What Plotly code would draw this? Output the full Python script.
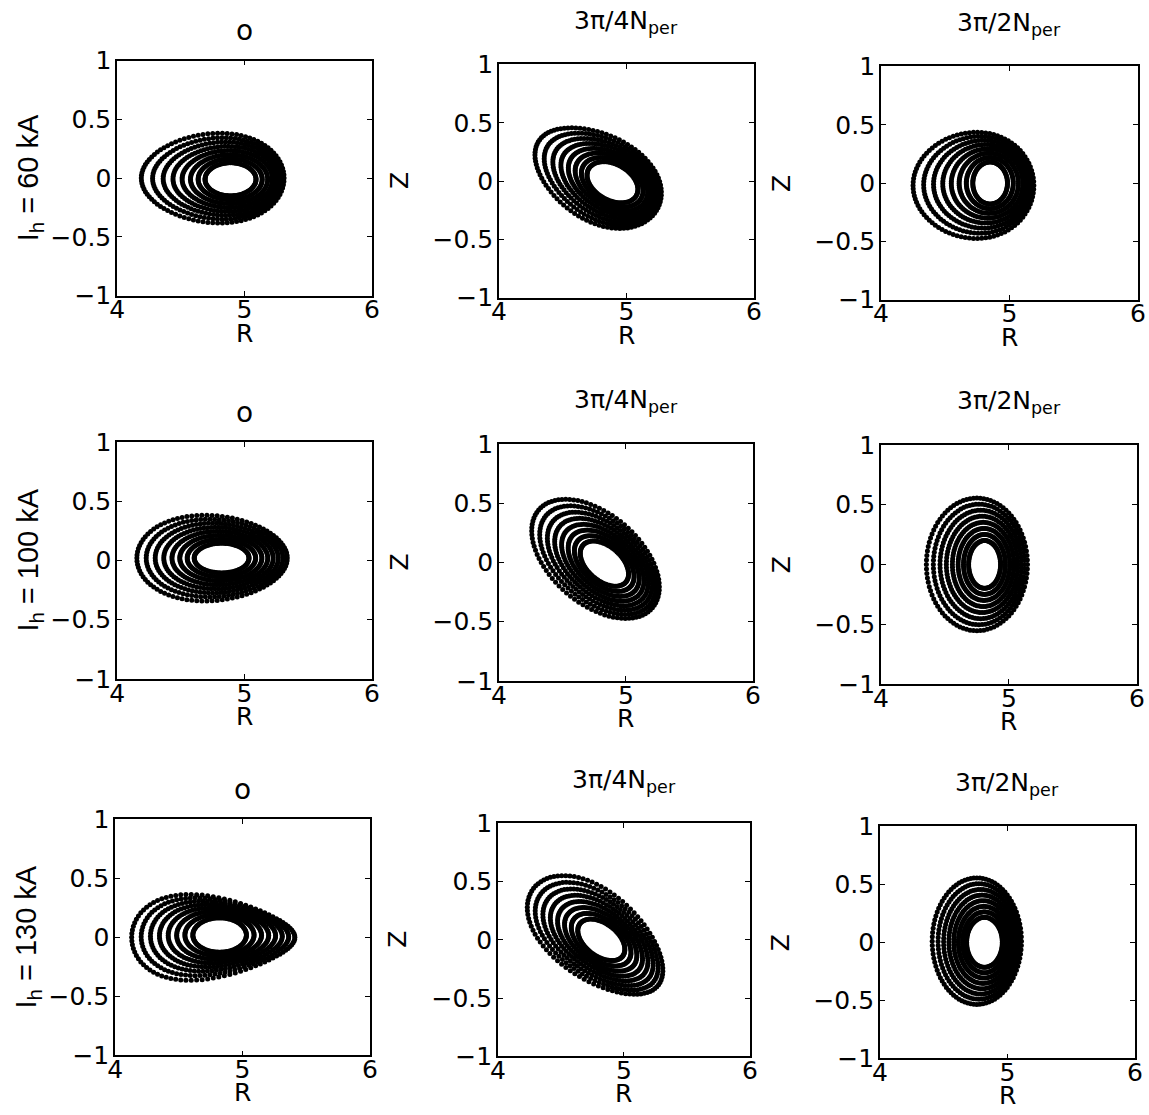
import numpy as np
import plotly.graph_objects as go

W, H = 1149, 1115
# The page is photographed with an 8 px body margin and scaled to the window,
# so reference pixel positions are mapped back through that transform.
PAD = 8
SX = W / (W + 2 * PAD)
SY = H / (H + 2 * PAD)

# ---------------- text ----------------
row_labels = ["I<sub>h</sub> = 60 kA", "I<sub>h</sub> = 100 kA", "I<sub>h</sub> = 130 kA"]
col_titles = ["o", "3π/4N<sub>per</sub>", "3π/2N<sub>per</sub>"]
x_title = "R"
y_title = "Z"
x_ticks = [4, 5, 6]
x_ticktext = ["4", "5", "6"]
y_ticks = [-1, -0.5, 0, 0.5, 1]
y_ticktext = ["\u22121", "\u22120.5", "0", "0.5", "1"]

# ---------------- data, row-major panels ----------------
n_surfaces = 8          # nested flux surfaces per panel
n_points = 92           # Poincare points per surface
# innermost surface
inner_R = [4.89, 4.89, 4.85, 4.82, 4.83, 4.81, 4.82, 4.82, 4.82]
inner_Z = [-0.01, -0.01, 0.0, 0.02, -0.01, 0.0, 0.02, 0.0, 0.0]
inner_a = [0.20, 0.22, 0.135, 0.215, 0.23, 0.125, 0.21, 0.22, 0.14]
inner_b = [0.14, 0.15, 0.18, 0.125, 0.14, 0.20, 0.145, 0.135, 0.215]
# outermost surface
outer_R = [4.75, 4.77, 4.72, 4.745, 4.76, 4.75, 4.77, 4.78, 4.76]
outer_Z = [0.0, 0.04, -0.02, 0.02, 0.03, 0.0, 0.0, 0.03, 0.01]
outer_a = [0.56, 0.55, 0.47, 0.59, 0.61, 0.395, 0.64, 0.647, 0.35]
outer_b = [0.38, 0.36, 0.455, 0.36, 0.365, 0.555, 0.345, 0.36, 0.545]
tilt_deg = [0, -35, 0, 0, -45, 0, 0, -42, 0]
egg = [0.1, 0.1, 0.05, -0.1, 0.0, 0.0, -0.35, -0.1, 0.0]

# ---------------- layout boxes (reference pixels: left, right, top, bottom) ----------------
boxes = [
    (117, 372, 55, 293), (499, 754, 59, 295), (881, 1138, 61, 297),
    (117, 372, 441, 681), (499, 753, 443, 683), (881, 1137, 444, 686),
    (115, 370, 823, 1062), (498, 750, 827, 1063), (880, 1135, 830, 1065),
]

FONT = "DejaVu Sans, Verdana, sans-serif"
LABEL_FONT = "Liberation Sans, Arial, Helvetica, sans-serif"


def px(X):
    return (X / SX - PAD) / W


def py(Y):
    return 1 - (Y / SY - PAD) / H


fig = go.Figure()
theta = np.linspace(0, 2 * np.pi, n_points, endpoint=False)

for i in range(9):
    Rs, Zs = [], []
    al = np.deg2rad(tilt_deg[i])
    for k in range(n_surfaces):
        t = k / (n_surfaces - 1)
        Rc = inner_R[i] + (outer_R[i] - inner_R[i]) * t ** 2
        Zc = inner_Z[i] + (outer_Z[i] - inner_Z[i]) * t ** 2
        a = inner_a[i] + (outer_a[i] - inner_a[i]) * t
        b = inner_b[i] + (outer_b[i] - inner_b[i]) * t
        e = egg[i] * t
        u = a * np.cos(theta)
        v = b * np.sin(theta) * (1 + e * np.cos(theta))
        Rs.append(Rc + u * np.cos(al) - v * np.sin(al))
        Zs.append(Zc + u * np.sin(al) + v * np.cos(al))
    sfx = "" if i == 0 else str(i + 1)
    fig.add_trace(go.Scatter(
        x=np.concatenate(Rs), y=np.concatenate(Zs), mode="markers",
        marker=dict(color="black", size=5.0, line=dict(width=0)),
        xaxis="x" + sfx, yaxis="y" + sfx, showlegend=False, hoverinfo="skip"))

layout = dict(width=W, height=H, margin=dict(l=0, r=0, t=0, b=0),
              paper_bgcolor="white", plot_bgcolor="white", showlegend=False,
              font=dict(family=FONT, size=25, color="black"))
annotations = []
for i in range(9):
    r, c = divmod(i, 3)
    x0, x1, y0, y1 = boxes[i]
    sfx = "" if i == 0 else str(i + 1)
    common = dict(ticks="inside", ticklen=5, tickwidth=1, tickcolor="black",
                  mirror="allticks", showline=True, linecolor="black", linewidth=1.6,
                  showgrid=False, zeroline=False, fixedrange=True,
                  tickfont=dict(family=FONT, size=25, color="black"))
    layout["xaxis" + sfx] = dict(
        domain=[px(x0), px(x1)], range=[4, 6], tickvals=x_ticks, ticktext=x_ticktext,
        anchor="y" + sfx, ticklabelstandoff=-9, **common)
    layout["yaxis" + sfx] = dict(
        domain=[py(y1), py(y0)], range=[-1, 1], tickvals=y_ticks, ticktext=y_ticktext,
        anchor="x" + sfx, ticklabelstandoff=-1, **common)
    xc = px((x0 + x1) / 2)
    yc = py((y0 + y1) / 2)
    # R axis title
    annotations.append(dict(
        text=x_title, x=xc, y=py(y1 + 38), xref="paper", yref="paper",
        xanchor="center", yanchor="middle", showarrow=False,
        font=dict(family=FONT, size=25, color="black")))
    # y axis title
    if c == 0:
        annotations.append(dict(
            text=row_labels[r], x=px(x0 - 87), y=yc, xref="paper", yref="paper",
            xanchor="center", yanchor="middle", textangle=-90, showarrow=False,
            font=dict(family=LABEL_FONT, size=29, color="black")))
    else:
        annotations.append(dict(
            text=y_title, x=px(x0 - 100), y=yc, xref="paper", yref="paper",
            xanchor="center", yanchor="middle", textangle=-90, showarrow=False,
            font=dict(family=FONT, size=25, color="black")))
    # panel title
    if c == 0:
        ty, fs = y0 - 30, 28
    else:
        ty, fs = y0 - 43, 25
    annotations.append(dict(
        text=col_titles[c], x=xc, y=py(ty),
        xref="paper", yref="paper", xanchor="center", yanchor="middle",
        showarrow=False, font=dict(family=FONT, size=fs, color="black")))
layout["annotations"] = annotations
fig.update_layout(**layout)
fig.write_html("out.html")
